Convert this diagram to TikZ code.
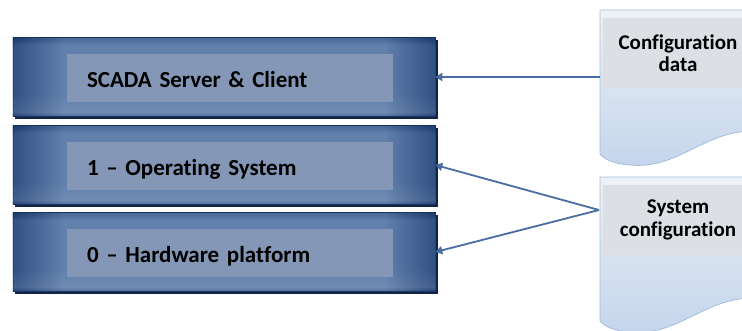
\documentclass[tikz,border=0pt]{standalone}
\usepackage{fontspec}
\setmainfont{Carlito}[Ligatures=NoCommon]
\usetikzlibrary{arrows.meta}

\definecolor{LayerDark}{HTML}{1D3D72}
\definecolor{LayerMid}{HTML}{6180AC}
\definecolor{LayerIn}{HTML}{8497B6}
\definecolor{DocTop}{HTML}{EEF1F5}
\definecolor{DocBot}{HTML}{C3D4EB}
\definecolor{DocIn}{HTML}{DCDFE4}
\definecolor{DocLine}{HTML}{A3BFE0}
\definecolor{LinkBlue}{HTML}{4A6DA3}

\pgfdeclarehorizontalshading{LayerShade}{100bp}{color(0bp)=(LayerDark); color(25bp)=(LayerDark); color(31bp)=(LayerMid); color(69bp)=(LayerMid); color(75bp)=(LayerDark); color(100bp)=(LayerDark)}
\pgfdeclareverticalshading{BandShade}{100bp}{color(0bp)=(LayerDark); color(25bp)=(LayerDark); color(28bp)=(LayerMid!70!white); color(40bp)=(LayerMid); color(70bp)=(LayerMid); color(74bp)=(LayerDark); color(100bp)=(LayerDark)}

\newcommand{\LayerLink}[3]{
\fill[LayerDark!60!black] (15,#2-37) rectangle (438,#2+42);
\node[Layer] (#1) at (224,#2) {};
\shade[LayerBand] (#1.north west) rectangle (#1.south east);
\node[LayerText] (#1In) at (230,#2+1) {#3};
}
\newcommand{\DocLink}[3]{
\begin{scope}[shift={(0,#2)}]
\shade[Doc] (600,0) -- (760,0) -- (760,121) .. controls (705,118) and (680,160) .. (630,155) .. controls (615,154) and (605,150) .. (600,144) -- cycle;
\node[DocText] (#1) at (678,43) {#3};
\end{scope}
}
\tikzset{every node/.style={font=\bfseries}}
\tikzset{Layer/.style={minimum width=422pt,minimum height=79pt,inner sep=0pt,shading=LayerShade,draw=LayerDark!70!black,line width=0.6pt}}
\tikzset{LayerBand/.style={shading=BandShade,opacity=0.3}}
\tikzset{LayerText/.style={fill=LayerIn,minimum height=48pt,text width=286pt,inner xsep=20pt,text height=22pt,text depth=2pt,align=left,font=\fontsize{23}{27}\selectfont\bfseries}}
\tikzset{Doc/.style={top color=DocTop,bottom color=DocBot,draw=DocLine,line width=0.8pt}}
\tikzset{DocText/.style={fill=DocIn,minimum width=150pt,minimum height=70pt,inner sep=0pt,align=center,font=\fontsize{21}{22.5}\selectfont\bfseries}}
\tikzset{Link/.style={LinkBlue,line width=1.8pt,-{Triangle[width=8pt,length=7pt]}}}

\begin{document}
\begin{tikzpicture}[x=1pt,y=-1pt]
\useasboundingbox (0,0) rectangle (742,331);
\clip (0,0) rectangle (742,331);

\LayerLink{scada}{77}{SCADA Server \& Client}

\LayerLink{os}{165}{1 -- Operating System}

\LayerLink{hw}{252}{0 -- Hardware platform}

\DocLink{cfg}{10}{Configuration\\data}

\DocLink{sys}{177}{System\\configuration}

\coordinate (cfgTap) at (600,77);
\coordinate (sysTap) at (599,210);

	\draw[Link] (cfgTap) -- (scada.east);
	\draw[Link] (sysTap) -- (os.east);
	\draw[Link] (sysTap) -- (hw.east);

\end{tikzpicture}
\end{document}
